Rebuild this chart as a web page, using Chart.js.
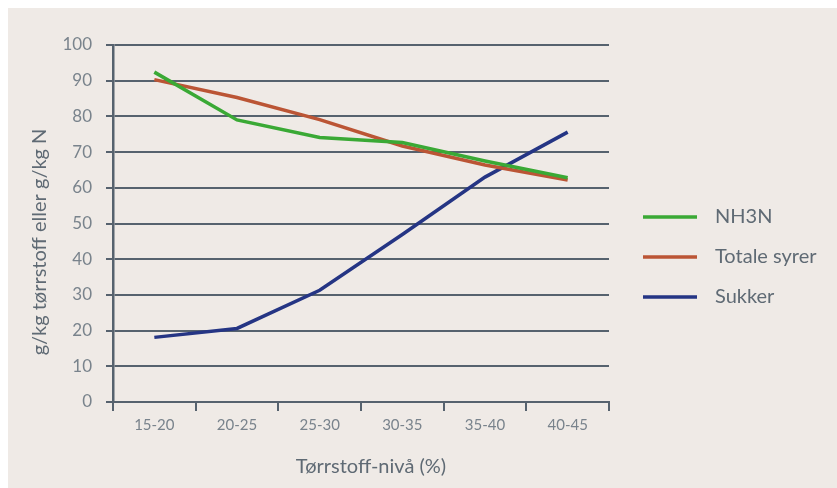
<!DOCTYPE html>
<html>
<head>
<meta charset="utf-8">
<script src="https://cdn.jsdelivr.net/npm/chart.js@4.4.1/dist/chart.umd.min.js"></script>
<style>
  html, body { margin: 0; padding: 0; background: #ffffff; }
  #wrap { width: 837px; height: 488px; position: relative; }
</style>
</head>
<body>
<div id="wrap"><canvas id="c" width="837" height="488"></canvas></div>
<script>
const categories = ['15-20', '20-25', '25-30', '30-35', '35-40', '40-45'];
const nh3n = [92.4, 79.0, 74.1, 72.7, 67.5, 62.8];
const totaleSyrer = [90.3, 85.3, 79.1, 71.7, 66.4, 62.2];
const sukker = [18.1, 20.6, 31.3, 46.9, 63.0, 75.6];
const seriesNames = ['NH3N', 'Totale syrer', 'Sukker'];
const seriesColors = ['#3aa935', '#bb5535', '#253584'];
const yTitle = 'g/kg tørrstoff eller g/kg N';
const xTitle = 'Tørrstoff-nivå (%)';

const GRID = '#56626e';
const TICK_TEXT = '#79838c';
const TITLE_TEXT = '#5f6a74';
const FONT = 'Lato, "Open Sans", sans-serif';

const bgPlugin = {
  id: 'bg',
  beforeDraw(chart) {
    const ctx = chart.ctx;
    ctx.save();
    ctx.fillStyle = '#efeae6';
    ctx.fillRect(8, 8, chart.width - 8, chart.height - 8);
    ctx.restore();
  }
};

const extrasPlugin = {
  id: 'extras',
  afterDraw(chart) {
    const ctx = chart.ctx;
    ctx.save();
    // legend
    chart.data.datasets.forEach((ds, i) => {
      const y = 217 + i * 40;
      ctx.strokeStyle = ds.borderColor;
      ctx.lineWidth = 3.5;
      ctx.beginPath();
      ctx.moveTo(643, y);
      ctx.lineTo(697, y);
      ctx.stroke();
      ctx.fillStyle = TITLE_TEXT;
      ctx.font = '20px ' + FONT;
      ctx.textAlign = 'left';
      ctx.textBaseline = 'middle';
      ctx.fillText(ds.label, 715, y);
    });
    // axis titles
    ctx.fillStyle = TITLE_TEXT;
    ctx.font = '20px ' + FONT;
    ctx.textAlign = 'center';
    ctx.textBaseline = 'middle';
    ctx.fillText(xTitle, 371, 467);
    ctx.translate(40, 242);
    ctx.rotate(-Math.PI / 2);
    ctx.fillText(yTitle, 0, 0);
    ctx.restore();
  }
};

const datasets = [nh3n, totaleSyrer, sukker].map((d, i) => ({
  label: seriesNames[i],
  data: d,
  borderColor: seriesColors[i],
  backgroundColor: seriesColors[i],
  borderWidth: 3.5,
  pointRadius: 0,
  pointHoverRadius: 0,
  tension: 0,
  fill: false
}));

new Chart(document.getElementById('c'), {
  type: 'line',
  data: { labels: categories, datasets },
  options: {
    responsive: false,
    animation: false,
    events: [],
    layout: { padding: { left: 8, top: 45, right: 228, bottom: 0 } },
    plugins: { legend: { display: false }, tooltip: { enabled: false } },
    scales: {
      x: {
        offset: true,
        grid: { offset: true, drawOnChartArea: false, drawTicks: true, tickLength: 9, color: GRID, lineWidth: 2 },
        border: { display: true, color: GRID, width: 2 },
        ticks: { color: TICK_TEXT, font: { family: FONT, size: 15 }, padding: 5, maxRotation: 0 },
        afterFit(s) { s.height = 86; }
      },
      y: {
        min: 0, max: 100,
        ticks: { stepSize: 10, color: TICK_TEXT, font: { family: FONT, size: 17 }, padding: 14 },
        grid: { color: GRID, lineWidth: 2, tickLength: 7 },
        border: { display: true, color: GRID, width: 2.5 },
        afterFit(s) { s.width = 105; }
      }
    }
  },
  plugins: [bgPlugin, extrasPlugin]
});
</script>
</body>
</html>
